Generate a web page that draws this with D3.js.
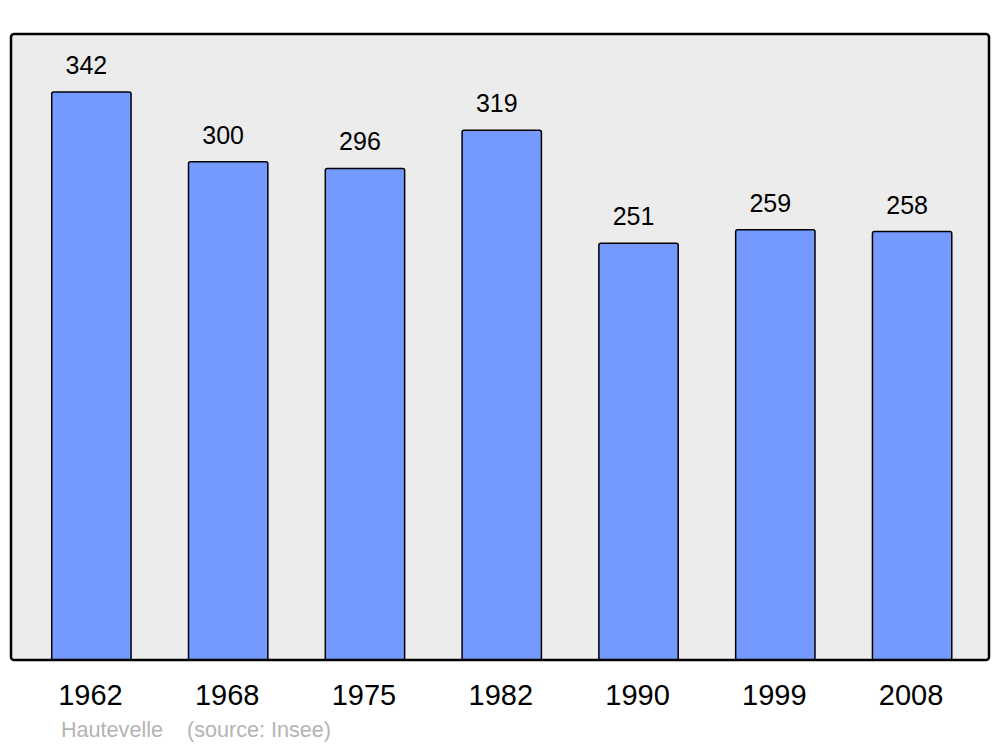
<!DOCTYPE html>
<html>
<head>
<meta charset="utf-8">
<script src="https://cdn.jsdelivr.net/npm/d3@7"></script>
<style>
  body { margin: 0; background: #fff; }
  text { font-family: "Liberation Sans", Arial, sans-serif; }
</style>
</head>
<body>
<div id="chart"></div>
<script>
var years = ["1962", "1968", "1975", "1982", "1990", "1999", "2008"];
var population = [342, 300, 296, 319, 251, 259, 258];
var commune = "Hautevelle";
var source = "(source: Insee)";

var width = 1000, height = 747;
var frameLeft = 11, frameRight = 989, frameTop = 34, frameBottom = 660;

var svg = d3.select("#chart").append("svg")
    .attr("width", width)
    .attr("height", height);

// plot background
svg.append("rect")
    .attr("x", frameLeft)
    .attr("y", frameTop)
    .attr("width", frameRight - frameLeft)
    .attr("height", frameBottom - frameTop)
    .attr("rx", 3)
    .attr("fill", "#ececec");

var x = d3.scaleBand()
    .domain(years)
    .range([23, 980.5])
    .paddingInner(0.42)
    .paddingOuter(0.21);

var y = d3.scaleLinear()
    .domain([0, 342])
    .range([frameBottom, 92]);

var data = years.map(function(d, i) { return { year: d, value: population[i] }; });

svg.append("g")
    .selectAll("rect")
    .data(data)
    .enter()
    .append("rect")
    .attr("x", function(d) { return x(d.year); })
    .attr("y", function(d) { return y(d.value); })
    .attr("width", x.bandwidth())
    .attr("height", function(d) { return frameBottom - y(d.value); })
    .attr("rx", 2)
    .attr("fill", "#7499ff")
    .attr("stroke", "#000")
    .attr("stroke-width", 1.5);

// value labels
svg.append("g")
    .selectAll("text")
    .data(data)
    .enter()
    .append("text")
    .attr("x", function(d) { return x(d.year) + x.bandwidth() / 2 - 5; })
    .attr("y", function(d) { return y(d.value) - 18; })
    .attr("text-anchor", "middle")
    .attr("font-size", 25)
    .attr("fill", "#000")
    .text(function(d) { return d.value; });

// frame border on top
svg.append("rect")
    .attr("x", frameLeft)
    .attr("y", frameTop)
    .attr("width", frameRight - frameLeft)
    .attr("height", frameBottom - frameTop)
    .attr("rx", 3)
    .attr("fill", "none")
    .attr("stroke", "#000")
    .attr("stroke-width", 2.5);

// year axis
var xAxis = d3.axisBottom(x).tickSize(0).tickPadding(0);
var axisG = svg.append("g")
    .attr("transform", "translate(-1," + frameBottom + ")")
    .call(xAxis);
axisG.select(".domain").remove();
axisG.selectAll("text")
    .attr("dy", null)
    .attr("y", 45)
    .attr("font-size", 29)
    .attr("font-family", "Liberation Sans, Arial, sans-serif")
    .attr("fill", "#000");

// footer
svg.append("text")
    .attr("x", 61)
    .attr("y", 737)
    .attr("font-size", 21.6)
    .attr("fill", "#b4b4b4")
    .text(commune);
svg.append("text")
    .attr("x", 187)
    .attr("y", 737)
    .attr("font-size", 21.6)
    .attr("fill", "#b4b4b4")
    .text(source);
</script>
</body>
</html>
